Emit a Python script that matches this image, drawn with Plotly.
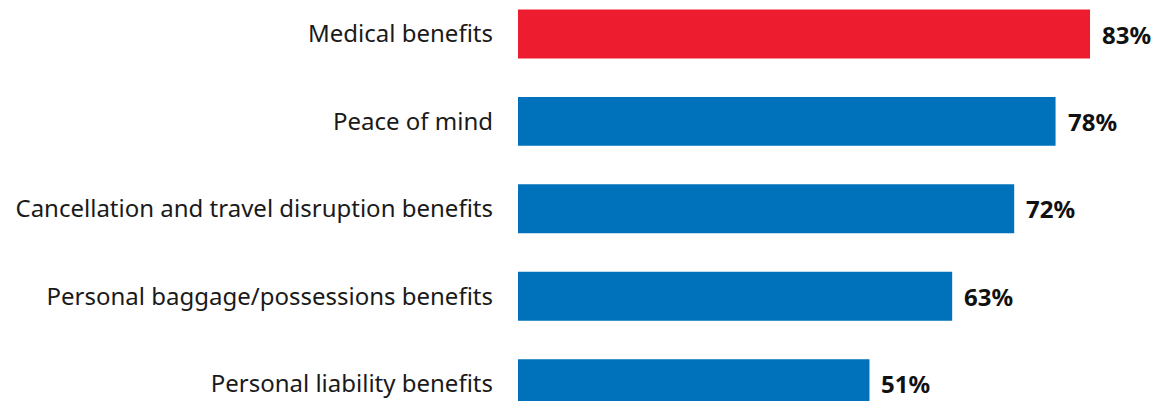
import plotly.graph_objects as go

categories = [
    "Medical benefits",
    "Peace of mind",
    "Cancellation and travel disruption benefits",
    "Personal baggage/possessions benefits",
    "Personal liability benefits",
]
values = [83, 78, 72, 63, 51]
colors = ["#ED1C2E", "#0072BC", "#0072BC", "#0072BC", "#0072BC"]
value_labels = [f"{v}%" for v in values]

fig = go.Figure(
    go.Bar(
        x=values,
        y=categories,
        orientation="h",
        marker=dict(color=colors, line=dict(width=0)),
        width=0.56,
        cliponaxis=False,
        hoverinfo="skip",
    )
)

# value labels just to the right of each bar end
for cat, val, lab in zip(categories, values, value_labels):
    fig.add_annotation(
        x=val,
        y=cat,
        text=f"<b>{lab}</b>",
        showarrow=False,
        xanchor="left",
        yanchor="middle",
        xshift=10,
        font=dict(family="Noto Sans", size=24, color="#111111"),
    )

fig.update_layout(
    width=1161,
    height=401,
    margin=dict(l=518, r=0, t=0, b=0),
    paper_bgcolor="white",
    plot_bgcolor="white",
    showlegend=False,
    xaxis=dict(
        range=[0, 93.3],
        visible=False,
        showgrid=False,
        zeroline=False,
        fixedrange=True,
    ),
    yaxis=dict(
        range=[4.199, -0.389],
        categoryorder="array",
        categoryarray=categories,
        showgrid=False,
        zeroline=False,
        showline=False,
        ticks="",
        ticklabelstandoff=24,
        tickfont=dict(family="Noto Sans", size=24, color="#1a1a1a"),
    ),
)

fig.write_html("out.html")
